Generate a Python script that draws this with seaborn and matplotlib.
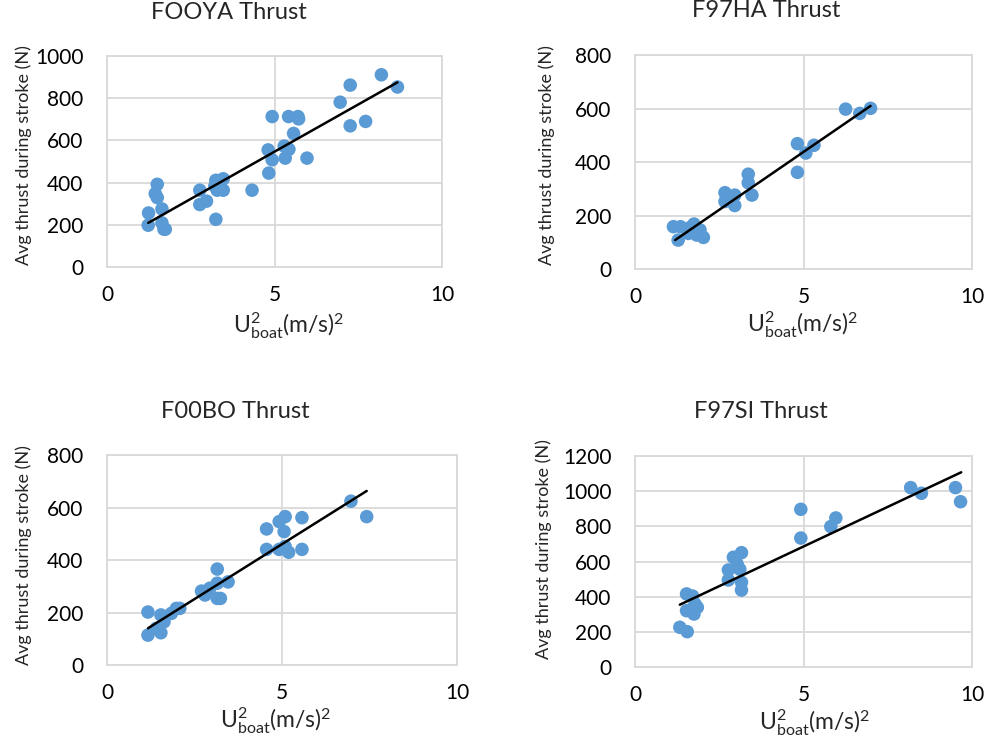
import matplotlib
matplotlib.use("Agg")
import matplotlib.pyplot as plt
import seaborn as sns
import pandas as pd

# ---------------- data ----------------
titles = ["FOOYA Thrust", "F97HA Thrust", "F00BO Thrust", "F97SI Thrust"]

fooya_x = [8.19, 7.26, 8.67, 6.96, 4.93, 5.42, 5.70, 5.72, 7.26, 7.72, 5.57, 4.81, 5.29,
           5.43, 5.32, 5.97, 4.93, 4.83, 4.33, 3.25, 3.47, 3.29, 3.47, 2.77, 2.97, 2.77,
           3.25, 3.22, 1.50, 1.44, 1.50, 1.64, 1.24, 1.23, 1.64, 1.70, 1.74]
fooya_y = [911, 862, 853, 781, 713, 713, 713, 702, 669, 690, 633, 555, 573,
           558, 516, 516, 508, 445, 364, 411, 418, 364, 364, 364, 312, 296,
           226, 384, 392, 348, 329, 275, 256, 198, 209, 179, 179]
fooya_fit_x = [1.23, 8.67]
fooya_fit_y = [209, 875]

f97ha_x = [6.25, 6.67, 6.99, 4.82, 5.31, 5.07, 4.82, 3.36, 3.36, 3.47, 2.67, 2.96, 2.67,
           2.96, 2.82, 1.14, 1.35, 1.28, 1.75, 1.65, 1.93, 1.83, 2.03, 1.58]
f97ha_y = [598, 582, 601, 469, 463, 434, 362, 355, 323, 277, 286, 277, 253,
           238, 265, 159, 159, 109, 169, 157, 147, 128, 119, 134]
f97ha_fit_x = [1.19, 6.99]
f97ha_fit_y = [109, 610]

f00bo_x = [6.97, 7.42, 5.09, 4.92, 5.57, 4.56, 5.06, 4.56, 4.92, 5.09, 5.19, 5.57, 3.15,
           3.46, 3.15, 2.94, 2.70, 2.80, 3.15, 3.24, 1.17, 1.54, 1.84, 1.98, 2.08, 1.63,
           1.41, 1.17, 1.54]
f00bo_y = [625, 566, 566, 547, 562, 519, 509, 441, 441, 452, 430, 441, 366,
           317, 312, 293, 282, 267, 254, 254, 202, 191, 197, 216, 216, 165,
           140, 114, 123]
f00bo_fit_x = [1.17, 7.42]
f00bo_fit_y = [140, 664]

f97si_x = [8.18, 8.50, 9.51, 9.66, 4.92, 5.96, 5.81, 4.92, 2.92, 3.16, 2.77, 3.11, 2.77,
           3.16, 3.16, 3.03, 1.53, 1.71, 1.78, 1.85, 1.53, 1.75, 1.33, 1.55, 1.63]
f97si_y = [1019, 987, 1019, 939, 896, 847, 798, 733, 624, 650, 552, 556, 495,
           482, 438, 586, 416, 404, 359, 340, 321, 302, 227, 202, 325]
f97si_fit_x = [1.33, 9.68]
f97si_fit_y = [355, 1106]

y_max = [1000, 800, 800, 1200]
x_ticks = [0, 5, 10]

xlabel = r"$\mathregular{U^2_{boat}}$(m/s)$^2$"
ylabel = "Avg thrust during stroke (N)"

# ---------------- style ----------------
sns.set_theme(style="white")
plt.rcParams["font.family"] = ["Lato", "DejaVu Sans"]
plt.rcParams["mathtext.fontset"] = "custom"
plt.rcParams["mathtext.rm"] = "Lato"
plt.rcParams["mathtext.it"] = "Lato"

fig = plt.figure(figsize=(10, 7.4), dpi=100)

# layout in pixels: (left, top, right, bottom)
boxes = [(107, 56, 442, 267), (635, 55, 972, 269.3),
         (107, 455.3, 457, 665), (635, 455.7, 972, 667.3)]
title_px = [(229, 21), (766, 19), (235, 420), (761, 420)]
xlab_px = [(289, 333), (803, 332), (276, 728), (815, 730)]
ylab_px = [(24, 155), (547, 155), (24, 555), (544, 549)]
xpad = [13, 13, 13, 13]

panels = [(fooya_x, fooya_y, fooya_fit_x, fooya_fit_y),
          (f97ha_x, f97ha_y, f97ha_fit_x, f97ha_fit_y),
          (f00bo_x, f00bo_y, f00bo_fit_x, f00bo_fit_y),
          (f97si_x, f97si_y, f97si_fit_x, f97si_fit_y)]

W, H = 1000, 740
grid_c = "#D9D9D9"
blue = "#5B9BD5"

for i, (xs, ys, fx, fy) in enumerate(panels):
    l, t, r, b = boxes[i]
    ax = fig.add_axes([l / W, 1 - b / H, (r - l) / W, (b - t) / H])
    df = pd.DataFrame({"x": xs, "y": ys})
    fit = pd.DataFrame({"x": fx, "y": fy})
    sns.scatterplot(data=df, x="x", y="y", ax=ax, color=blue, s=95,
                    edgecolor="none", zorder=3, legend=False)
    sns.lineplot(data=fit, x="x", y="y", ax=ax, color="black", lw=1.8,
                 zorder=4, legend=False)
    ax.set_xlim(0, 10)
    ax.set_ylim(0, y_max[i])
    ax.set_xticks(x_ticks)
    ax.set_yticks(list(range(0, y_max[i] + 1, 200)))
    ax.grid(True, color=grid_c, lw=1.3)
    ax.set_axisbelow(True)
    for sp in ax.spines.values():
        sp.set_color(grid_c)
        sp.set_linewidth(1.3)
    ax.tick_params(axis="both", length=0, labelsize=15, colors="black")
    ax.tick_params(axis="y", pad=17)
    ax.tick_params(axis="x", pad=xpad[i])

    pw, ph = r - l, b - t
    ax.set_title(titles[i], fontsize=17, x=(title_px[i][0] - l) / pw,
                 y=(b - title_px[i][1]) / ph, va="center", ha="center")
    ax.set_xlabel(xlabel, fontsize=16.5)
    ax.xaxis.set_label_coords((xlab_px[i][0] - l) / pw, (b - xlab_px[i][1]) / ph)
    ax.xaxis.label.set_va("baseline")
    ax.set_ylabel(ylabel, fontsize=13)
    ax.yaxis.set_label_coords((ylab_px[i][0] - l) / pw, (b - ylab_px[i][1]) / ph)
    ax.yaxis.label.set_va("center")

fig.savefig("out.png", dpi=100)
